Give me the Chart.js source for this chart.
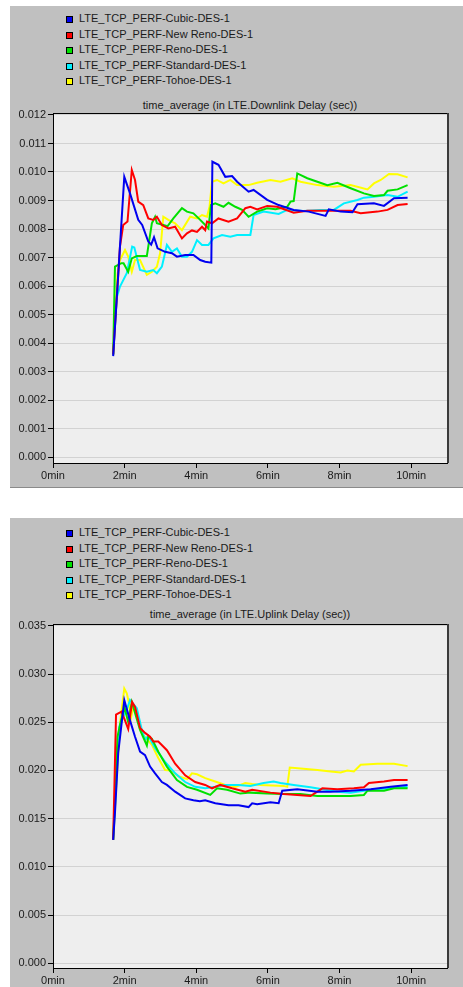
<!DOCTYPE html>
<html lang="en">
<head>
<meta charset="UTF-8">
<title>LTE TCP delay</title>
<script src="https://cdn.jsdelivr.net/npm/chart.js"></script>
<style>
  body {
    margin: 0;
    background: #fff;
    overflow: hidden;
    font-family: 'Liberation Sans', Arial, sans-serif;
    color: #1a1a1a;
  }
  .panel {
    position: absolute;
    left: 10px;
    width: 453px;
    background: #c0c0c0;
  }
  #panelDl { top: 6px; height: 481px; border-bottom: 1px solid #8a8a8a; }
  #panelUl { top: 518px; height: 469px; }
  .legend {
    position: absolute;
    left: 56px;
    font-size: 11px;
  }
  .legend div {
    height: 15.5px;
    line-height: 15.5px;
    white-space: nowrap;
  }
  .legend .box {
    display: inline-block;
    width: 5px;
    height: 5px;
    border: 1px solid #000;
    margin-right: 6px;
    vertical-align: -1px;
  }
  .title {
    position: absolute;
    left: 43px;
    width: 394px;
    text-align: center;
    font-size: 11px;
    line-height: 13px;
  }
  canvas { position: absolute; left: 0; }
</style>
</head>
<body>

<div class="panel" id="panelDl">
  <div class="legend" id="legendDl" style="top:5px"></div>
  <div class="title" style="top:93px">time_average (in LTE.Downlink Delay (sec))</div>
  <canvas id="chartDl" width="453" height="387" style="top:94px"></canvas>
</div>

<div class="panel" id="panelUl">
  <div class="legend" id="legendUl" style="top:7px"></div>
  <div class="title" style="top:90px">time_average (in LTE.Uplink Delay (sec))</div>
  <canvas id="chartUl" width="453" height="376" style="top:93px"></canvas>
</div>

<script>
const seriesNames = [
  'LTE_TCP_PERF-Cubic-DES-1',
  'LTE_TCP_PERF-New Reno-DES-1',
  'LTE_TCP_PERF-Reno-DES-1',
  'LTE_TCP_PERF-Standard-DES-1',
  'LTE_TCP_PERF-Tohoe-DES-1'
];
const seriesColors = ['#0000f0', '#ff0000', '#00e000', '#00f0ff', '#ffff00'];

const xTicks = [0, 2, 4, 6, 8, 10];
const dlYTicks = [0, 0.001, 0.002, 0.003, 0.004, 0.005, 0.006, 0.007, 0.008, 0.009, 0.010, 0.011, 0.012];
const ulYTicks = [0, 0.005, 0.010, 0.015, 0.020, 0.025, 0.030, 0.035];

// [minutes, seconds]
const dlCubic = [[1.68,0.00354],[1.99,0.00983],[2.15,0.00925],[2.38,0.00832],[2.49,0.00814],[2.66,0.00756],[2.74,0.00745],[2.82,0.00771],[2.92,0.00732],[3.13,0.0072],[3.32,0.00715],[3.46,0.00703],[3.69,0.00709],[3.92,0.00709],[4.11,0.00691],[4.25,0.00685],[4.42,0.00682],[4.45,0.01036],[4.62,0.01025],[4.81,0.00983],[5.0,0.00986],[5.14,0.00966],[5.46,0.00931],[5.6,0.00937],[5.98,0.00902],[6.3,0.00884],[6.72,0.00867],[7.14,0.00861],[7.61,0.00846],[7.7,0.00869],[8.03,0.00861],[8.36,0.00859],[8.5,0.00887],[8.96,0.0089],[9.24,0.00881],[9.52,0.00908],[9.9,0.0091]];
const dlNewReno = [[1.68,0.0036],[1.87,0.00738],[1.96,0.00814],[2.08,0.00826],[2.2,0.01007],[2.29,0.00972],[2.38,0.00896],[2.52,0.00884],[2.66,0.00837],[2.8,0.00832],[2.9,0.00843],[3.04,0.00814],[3.22,0.00802],[3.41,0.00808],[3.6,0.00767],[3.74,0.00785],[3.88,0.00795],[4.02,0.0079],[4.16,0.00808],[4.25,0.00796],[4.3,0.00826],[4.44,0.0082],[4.62,0.00837],[4.9,0.00826],[5.14,0.00837],[5.37,0.00873],[5.51,0.00878],[5.7,0.00869],[5.98,0.00881],[6.26,0.00878],[6.72,0.00857],[7.1,0.00864],[7.66,0.00864],[8.31,0.00864],[8.59,0.00855],[9.06,0.00861],[9.34,0.00867],[9.62,0.00884],[9.9,0.00888]];
const dlReno = [[1.68,0.0036],[1.73,0.00668],[1.91,0.0068],[1.97,0.0068],[2.1,0.0065],[2.2,0.00697],[2.34,0.00705],[2.62,0.00705],[2.76,0.0082],[2.85,0.00843],[2.9,0.0082],[3.08,0.00814],[3.2,0.0081],[3.36,0.00837],[3.6,0.00873],[3.74,0.00861],[3.92,0.00855],[4.11,0.00832],[4.25,0.00814],[4.34,0.00802],[4.41,0.00884],[4.53,0.0089],[4.76,0.00878],[4.9,0.00892],[5.09,0.00878],[5.28,0.00867],[5.46,0.00843],[5.7,0.00861],[5.98,0.00873],[6.21,0.00869],[6.54,0.00878],[6.63,0.00896],[6.72,0.00898],[6.82,0.00995],[7.1,0.00978],[7.38,0.00966],[7.66,0.00954],[7.94,0.00962],[8.31,0.00943],[8.68,0.00925],[8.96,0.00916],[9.24,0.00919],[9.34,0.00934],[9.62,0.00939],[9.9,0.00954]];
const dlStandard = [[1.68,0.0036],[1.78,0.0056],[1.87,0.00598],[2.06,0.00645],[2.21,0.00738],[2.27,0.00735],[2.43,0.00656],[2.62,0.0065],[2.8,0.00656],[2.9,0.00645],[3.04,0.00668],[3.18,0.00744],[3.32,0.0072],[3.46,0.00732],[3.6,0.00703],[3.74,0.00703],[3.88,0.0072],[4.02,0.00761],[4.16,0.00744],[4.34,0.00744],[4.48,0.00767],[4.72,0.00779],[4.95,0.00773],[5.14,0.00779],[5.32,0.00779],[5.51,0.00779],[5.6,0.00849],[5.88,0.00861],[6.3,0.00853],[6.54,0.00867],[7.0,0.00863],[7.47,0.00867],[7.84,0.00867],[8.12,0.0089],[8.5,0.00902],[8.68,0.0091],[8.96,0.00913],[9.34,0.00919],[9.62,0.00913],[9.9,0.00931]];
const dlTohoe = [[1.68,0.0036],[1.8,0.0064],[1.87,0.00691],[2.01,0.00726],[2.1,0.00703],[2.2,0.0065],[2.29,0.00691],[2.43,0.00691],[2.62,0.00639],[2.76,0.0065],[2.9,0.00668],[2.99,0.00715],[3.08,0.00843],[3.22,0.00832],[3.41,0.0082],[3.6,0.00796],[3.83,0.00843],[4.02,0.00837],[4.16,0.00849],[4.3,0.00843],[4.37,0.00878],[4.44,0.00966],[4.58,0.00972],[4.76,0.0096],[4.95,0.00972],[5.14,0.00954],[5.46,0.00954],[5.7,0.00962],[6.07,0.00972],[6.35,0.00966],[6.68,0.00978],[6.91,0.00966],[7.38,0.00954],[7.84,0.00948],[8.31,0.00954],[8.78,0.00939],[8.96,0.0096],[9.15,0.00972],[9.38,0.00993],[9.62,0.00992],[9.9,0.00981]];

const ulCubic = [[1.68,0.0128],[1.73,0.0156],[1.82,0.0218],[1.99,0.0273],[2.15,0.0252],[2.29,0.0235],[2.43,0.02195],[2.57,0.0216],[2.71,0.0204],[2.85,0.0197],[3.04,0.0188],[3.18,0.0185],[3.41,0.0178],[3.69,0.0171],[3.92,0.0169],[4.1,0.0168],[4.25,0.0169],[4.53,0.0166],[4.9,0.0164],[5.18,0.0164],[5.46,0.0162],[5.56,0.0166],[5.7,0.0165],[6.07,0.0167],[6.3,0.0166],[6.4,0.0179],[6.82,0.01805],[7.38,0.0178],[7.75,0.0178],[8.31,0.0179],[8.87,0.01805],[9.43,0.0183],[9.9,0.0185]];
const ulNewReno = [[1.68,0.0128],[1.76,0.0258],[1.91,0.0261],[2.01,0.0252],[2.1,0.0243],[2.21,0.0271],[2.29,0.0266],[2.43,0.0244],[2.57,0.0239],[2.71,0.0235],[2.8,0.023],[2.94,0.023],[3.18,0.0221],[3.41,0.0207],[3.69,0.0195],[3.97,0.0188],[4.25,0.0185],[4.44,0.01815],[4.67,0.0185],[5.0,0.01815],[5.37,0.0178],[5.56,0.018],[6.07,0.0177],[6.44,0.01756],[7.19,0.01735],[7.52,0.01815],[7.94,0.01805],[8.4,0.01815],[8.68,0.01825],[8.82,0.0187],[9.24,0.01885],[9.52,0.019],[9.9,0.019]];
const ulReno = [[1.68,0.0128],[1.8,0.0235],[1.9,0.0252],[2.0,0.0265],[2.1,0.025],[2.2,0.0271],[2.43,0.0242],[2.62,0.0226],[2.66,0.0235],[2.76,0.0233],[2.94,0.02195],[3.18,0.0204],[3.46,0.019],[3.74,0.0183],[4.02,0.018],[4.39,0.01746],[4.58,0.01815],[4.86,0.018],[5.23,0.0176],[5.51,0.0177],[5.98,0.0176],[6.44,0.01756],[6.91,0.01756],[7.38,0.01735],[7.84,0.01735],[8.31,0.01735],[8.68,0.01746],[8.78,0.0179],[9.24,0.0179],[9.52,0.01815],[9.9,0.01815]];
const ulStandard = [[1.68,0.0128],[1.85,0.0245],[1.95,0.0255],[2.05,0.0262],[2.15,0.0273],[2.34,0.02645],[2.48,0.0242],[2.57,0.0232],[2.66,0.0236],[2.85,0.0223],[3.13,0.0209],[3.41,0.0197],[3.69,0.0188],[3.97,0.0183],[4.25,0.01815],[4.53,0.0183],[4.81,0.0185],[5.18,0.0185],[5.51,0.0184],[5.88,0.0187],[6.16,0.01885],[6.35,0.0187],[6.72,0.0185],[7.19,0.01825],[7.52,0.01805],[7.94,0.0178],[8.31,0.0177],[8.96,0.01805],[9.43,0.01815],[9.9,0.0183]];
const ulTohoe = [[1.68,0.0128],[1.87,0.0249],[1.99,0.0285],[2.06,0.028],[2.12,0.027],[2.18,0.0255],[2.24,0.0266],[2.34,0.0261],[2.43,0.0244],[2.52,0.0237],[2.76,0.02265],[2.94,0.0213],[3.13,0.02005],[3.3,0.02],[3.5,0.0194],[3.75,0.0191],[3.88,0.0197],[4.02,0.0196],[4.25,0.0192],[4.53,0.01885],[4.81,0.0185],[5.09,0.0183],[5.37,0.0187],[5.56,0.0186],[5.79,0.0185],[6.44,0.0184],[6.54,0.0183],[6.61,0.0203],[6.91,0.0202],[7.38,0.02005],[7.75,0.0199],[8.03,0.0198],[8.22,0.02],[8.4,0.0199],[8.59,0.0206],[9.06,0.0207],[9.52,0.0207],[9.9,0.02045]];

Chart.defaults.font.family = "'Liberation Sans', Arial, sans-serif";
Chart.defaults.font.size = 11;
Chart.defaults.color = '#1a1a1a';

// light plot background and the dark frame around it
const plotFrame = {
  id: 'plotFrame',
  beforeDraw(chart) {
    const a = chart.chartArea, c = chart.ctx;
    c.save();
    c.fillStyle = '#eeeeee';
    c.fillRect(a.left, a.top, a.right - a.left, a.bottom - a.top);
    c.restore();
  },
  afterDraw(chart) {
    const a = chart.chartArea, c = chart.ctx;
    c.save();
    c.strokeStyle = '#000';
    c.lineWidth = 1;
    c.beginPath();
    c.moveTo(a.left, a.top + 0.5);
    c.lineTo(a.right, a.top + 0.5);
    c.stroke();
    c.strokeStyle = '#3a3a3a';
    c.lineWidth = 2;
    c.beginPath();
    c.moveTo(a.right + 1, a.top);
    c.lineTo(a.right + 1, a.bottom);
    c.stroke();
    c.restore();
  }
};

function fillLegend(id) {
  const el = document.getElementById(id);
  seriesNames.forEach((name, i) => {
    const row = document.createElement('div');
    const box = document.createElement('span');
    box.className = 'box';
    box.style.background = seriesColors[i];
    row.appendChild(box);
    row.appendChild(document.createTextNode(name));
    el.appendChild(row);
  });
}

function makeChart(id, series, yTicks, yMin, yMax, xAxisHeight) {
  new Chart(document.getElementById(id), {
    type: 'line',
    data: {
      datasets: series.map((pts, i) => ({
        label: seriesNames[i],
        data: pts.map(p => ({ x: p[0], y: p[1] })),
        borderColor: seriesColors[i],
        borderWidth: 2,
        pointRadius: 0,
        tension: 0,
        fill: false
      }))
    },
    options: {
      responsive: false,
      animation: false,
      layout: { padding: { top: 13, right: 16, left: 0, bottom: 0 } },
      plugins: { legend: { display: false }, tooltip: { enabled: false } },
      scales: {
        x: {
          type: 'linear',
          min: 0,
          max: 11,
          afterBuildTicks: s => { s.ticks = xTicks.map(v => ({ value: v })); },
          afterFit: s => { s.height = xAxisHeight; },
          ticks: { callback: v => v + 'min', padding: 1, maxRotation: 0 },
          grid: { drawOnChartArea: false, tickColor: '#000', tickLength: 5 },
          border: { color: '#000', width: 1 }
        },
        y: {
          min: yMin,
          max: yMax,
          afterBuildTicks: s => { s.ticks = yTicks.map(v => ({ value: v })); },
          afterFit: s => { s.width = 43; },
          ticks: { callback: v => v.toFixed(3), padding: 2 },
          grid: { color: '#d2d2d2', tickColor: '#000', tickLength: 5 },
          border: { color: '#000', width: 1 }
        }
      }
    },
    plugins: [plotFrame]
  });
}

fillLegend('legendDl');
fillLegend('legendUl');
makeChart('chartDl', [dlCubic, dlNewReno, dlReno, dlStandard, dlTohoe], dlYTicks, -0.00021, 0.01207, 24);
makeChart('chartUl', [ulCubic, ulNewReno, ulReno, ulStandard, ulTohoe], ulYTicks, -0.0005, 0.0352, 19);
</script>

</body>
</html>
